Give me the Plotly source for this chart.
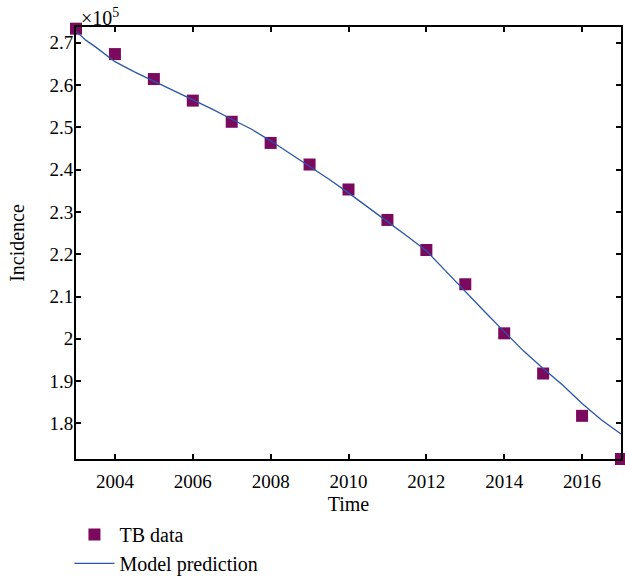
import plotly.graph_objects as go

# TB incidence data (units of 10^5)
years = [2003, 2004, 2005, 2006, 2007, 2008, 2009, 2010, 2011, 2012, 2013, 2014, 2015, 2016, 2017]
tb_data = [2.733, 2.673, 2.614, 2.563, 2.513, 2.463, 2.412, 2.353, 2.281, 2.210, 2.129, 2.013, 1.918, 1.818, 1.716]

# Model prediction curve
model_t = [2003, 2003.25, 2003.5, 2004, 2004.5, 2005, 2005.5, 2006, 2006.5, 2007, 2007.5,
           2008, 2008.5, 2009, 2009.5, 2010, 2010.5, 2011, 2011.5, 2012, 2012.5, 2013,
           2013.5, 2014, 2014.5, 2015, 2015.5, 2016, 2016.5, 2017]
model_y = [2.727, 2.706, 2.690, 2.655, 2.631, 2.609, 2.588, 2.565, 2.543, 2.519, 2.496,
           2.468, 2.438, 2.408, 2.377, 2.345, 2.312, 2.277, 2.243, 2.208, 2.160, 2.111,
           2.064, 2.017, 1.971, 1.930, 1.891, 1.847, 1.808, 1.775]

x_ticks = [2004, 2006, 2008, 2010, 2012, 2014, 2016]
y_ticks = [1.8, 1.9, 2.0, 2.1, 2.2, 2.3, 2.4, 2.5, 2.6, 2.7]
y_ticktext = ["1.8", "1.9", "2", "2.1", "2.2", "2.3", "2.4", "2.5", "2.6", "2.7"]

FONT = "Liberation Serif"

fig = go.Figure()
fig.add_trace(go.Scatter(
    x=years, y=tb_data, mode="markers", name="TB data",
    marker=dict(symbol="square", size=12, color="#7b0a5f"),
    cliponaxis=False,
))
fig.add_trace(go.Scatter(
    x=model_t, y=model_y, mode="lines", name="Model prediction",
    line=dict(color="#2a55a8", width=1.3),
))

axis_common = dict(
    showline=True, linecolor="black", linewidth=2, mirror="ticks",
    ticks="inside", ticklen=5, tickwidth=1.5, tickcolor="black",
    showgrid=False, zeroline=False, automargin=False,
    tickfont=dict(family=FONT, size=19, color="black"),
)

fig.update_xaxes(
    range=[2003, 2017], tickvals=x_ticks, ticklabelstandoff=4,
    title=dict(text="Time", font=dict(family=FONT, size=20, color="black"), standoff=19),
    **axis_common,
)
fig.update_yaxes(
    range=[1.716, 2.737], tickvals=y_ticks, ticktext=y_ticktext,
    ticklabelstandoff=-3,
    title=dict(text="Incidence", font=dict(family=FONT, size=20, color="black"), standoff=19),
    **axis_common,
)

fig.add_annotation(
    text="×10<sup>5</sup>", xref="paper", yref="paper", x=0, y=1,
    xanchor="left", yanchor="bottom", showarrow=False, xshift=3, yshift=-4,
    font=dict(family=FONT, size=20, color="black"),
)

fig.update_layout(
    width=625, height=576,
    margin=dict(l=76, r=4, t=27, b=117),
    plot_bgcolor="white", paper_bgcolor="white",
    font=dict(family=FONT, size=19, color="black"),
    legend=dict(
        x=-0.012, y=0.106, xanchor="left", yanchor="top", yref="container", xref="paper",
        font=dict(family=FONT, size=20, color="black"),
        bgcolor="rgba(0,0,0,0)", itemwidth=40, tracegroupgap=0,
    ),
    showlegend=True,
)

fig.write_html("out.html", config={"displayModeBar": False},
               post_script="document.body.style.margin='0px';")
